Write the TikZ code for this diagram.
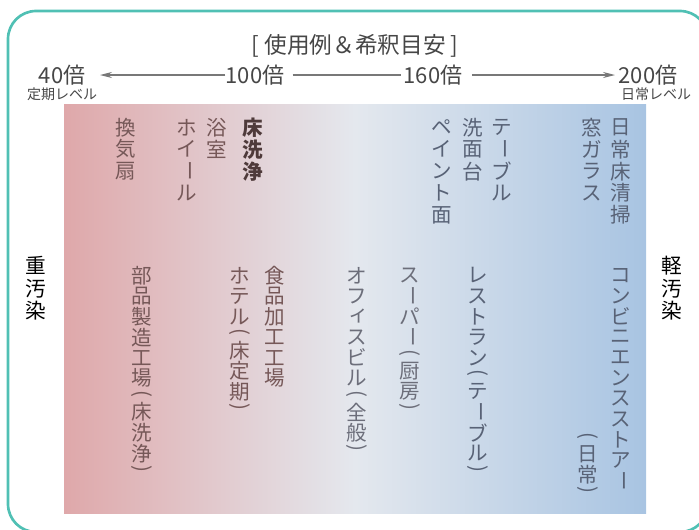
\documentclass[tikz,border=0pt]{standalone}
\usepackage{fontspec}
\usepackage{graphicx}
\setmainfont{Noto Sans CJK JP}
\newfontfamily\jp{Noto Sans CJK JP}
\usetikzlibrary{arrows.meta}
\definecolor{framec}{RGB}{80,192,180}
\definecolor{gL}{RGB}{223,168,170}
\definecolor{gM}{RGB}{228,232,238}
\definecolor{gR}{RGB}{168,196,226}
\definecolor{txL}{RGB}{118,88,88}
\definecolor{txB}{RGB}{78,58,58}
\definecolor{txM}{RGB}{108,110,122}
\definecolor{txR}{RGB}{88,98,118}
\definecolor{arrc}{RGB}{120,120,120}
\definecolor{hdrc}{RGB}{70,70,70}
% vertical stacking of characters
\newdimen\vtadv \vtadv=1em
\def\vslot#1#2{\vbox to #1{\vss\hbox to 1em{\hss#2\hss}\vss}}
\def\vtone#1{%
  \ifx#1ー\vslot{\vtadv}{\rotatebox[origin=c]{-90}{ー}}%
  \else\ifx#1(\vslot{.65em}{\rotatebox[origin=c]{-90}{(}}%
  \else\ifx#1)\vslot{.65em}{\rotatebox[origin=c]{-90}{)}}%
  \else\ifx#1ィ\vslot{\vtadv}{\kern.15em\raisebox{.12em}{ィ}}%
  \else\vslot{\vtadv}{#1}\fi\fi\fi\fi}
\def\vtloop#1{\ifx#1\relax\else\vtone{#1}\expandafter\vtloop\fi}
\newcommand\vt[2][1]{\vbox{\offinterlineskip\vtadv=#1em\relax\vtloop#2\relax}}
\tikzset{
  vtxt/.style={anchor=north, inner sep=0pt, font=\jp\fontsize{15.4pt}{16pt}\selectfont},
  hdr/.style={inner sep=0pt, text=hdrc, font=\jp\fontsize{16.5pt}{17pt}\selectfont},
  sub/.style={inner sep=0pt, text=hdrc, font=\jp\fontsize{10.5pt}{11pt}\selectfont},
  arrline/.style={draw=arrc, line width=0.9pt},
  side/.style={anchor=north, inner sep=0pt, text=black, font=\jp\fontsize{15.5pt}{16pt}\selectfont}
}
\begin{document}
\begin{tikzpicture}[x=0.75pt,y=-0.75pt]
\useasboundingbox (0,0) rectangle (699,529);
\draw[framec, line width=2pt, rounded corners=21pt] (8,11) rectangle (708,532);
\shade[left color=gL, right color=gR, middle color=gM] (64,104) rectangle (646,513);
% header
\node[hdr, font=\jp\fontsize{17pt}{18pt}\selectfont] (title) at (355,46) {[ 使用例＆希釈目安 ]};
\node[hdr] (n40) at (62,75) {40倍};
\node[sub] (s40) at (62,94) {定期レベル};
\node[hdr] (n100) at (255,75) {100倍};
\node[hdr] (n160) at (433,75) {160倍};
\node[hdr] (n200) at (648,75) {200倍};
\node[sub] (s200) at (656,94) {日常レベル};
\coordinate (tipL) at (100,75);
\coordinate (tipR) at (615,75);
\draw[arrline, -{Stealth[length=9pt,width=4.5pt]}] (n100.west) -- (tipL);
\draw[arrline, shorten <=6pt, shorten >=2pt] (n100.east) -- (n160.west);
\draw[arrline, shorten <=7pt, -{Stealth[length=9pt,width=4.5pt]}] (n160.east) -- (tipR);
% side labels
\node[side] (heavy) at (36,254) {\vt[1.1]{重汚染}};
\node[side] (light) at (672,254) {\vt[1.1]{軽汚染}};
% top row
\node[vtxt, text=txL] (a1) at (126,116) {\vt[1.07]{換気扇}};
\node[vtxt, text=txL] (a2) at (187,116) {\vt[1.07]{ホイール}};
\node[vtxt, text=txL] (a3) at (217,116) {\vt[1.07]{浴室}};
\node[vtxt, text=txB, font=\jp\bfseries\fontsize{15.4pt}{16pt}\selectfont] (a4) at (253,116) {\vt[1.07]{床洗浄}};
\node[vtxt, text=txR] (a5) at (442,116) {\vt[1.07]{ペイント面}};
\node[vtxt, text=txR] (a6) at (473,116) {\vt[1.07]{洗面台}};
\node[vtxt, text=txR] (a7) at (502,116) {\vt[1.07]{テーブル}};
\node[vtxt, text=txR] (a8) at (592,116) {\vt[1.07]{窓ガラス}};
\node[vtxt, text=txR] (a9) at (621,116) {\vt[1.07]{日常床清掃}};
% bottom row
\node[vtxt, text=txL] (b1) at (142,265) {\vt{部品製造工場(床洗浄)}};
\node[vtxt, text=txL] (b2) at (240,265) {\vt{ホテル(床定期)}};
\node[vtxt, text=txL] (b3) at (275,265) {\vt{食品加工工場}};
\node[vtxt, text=txM] (b4) at (357,265) {\vt{オフィスビル(全般)}};
\node[vtxt, text=txM] (b5) at (410,265) {\vt{スーパー(厨房)}};
\node[vtxt, text=txR] (b6) at (478,265) {\vt{レストラン(テーブル)}};
\node[vtxt, text=txR] (b7) at (621,265) {\vt{コンビニエンスストアー}};
\node[vtxt, text=txR] (b8) at (588,430) {\vt{(日常)}};
\end{tikzpicture}
\end{document}
